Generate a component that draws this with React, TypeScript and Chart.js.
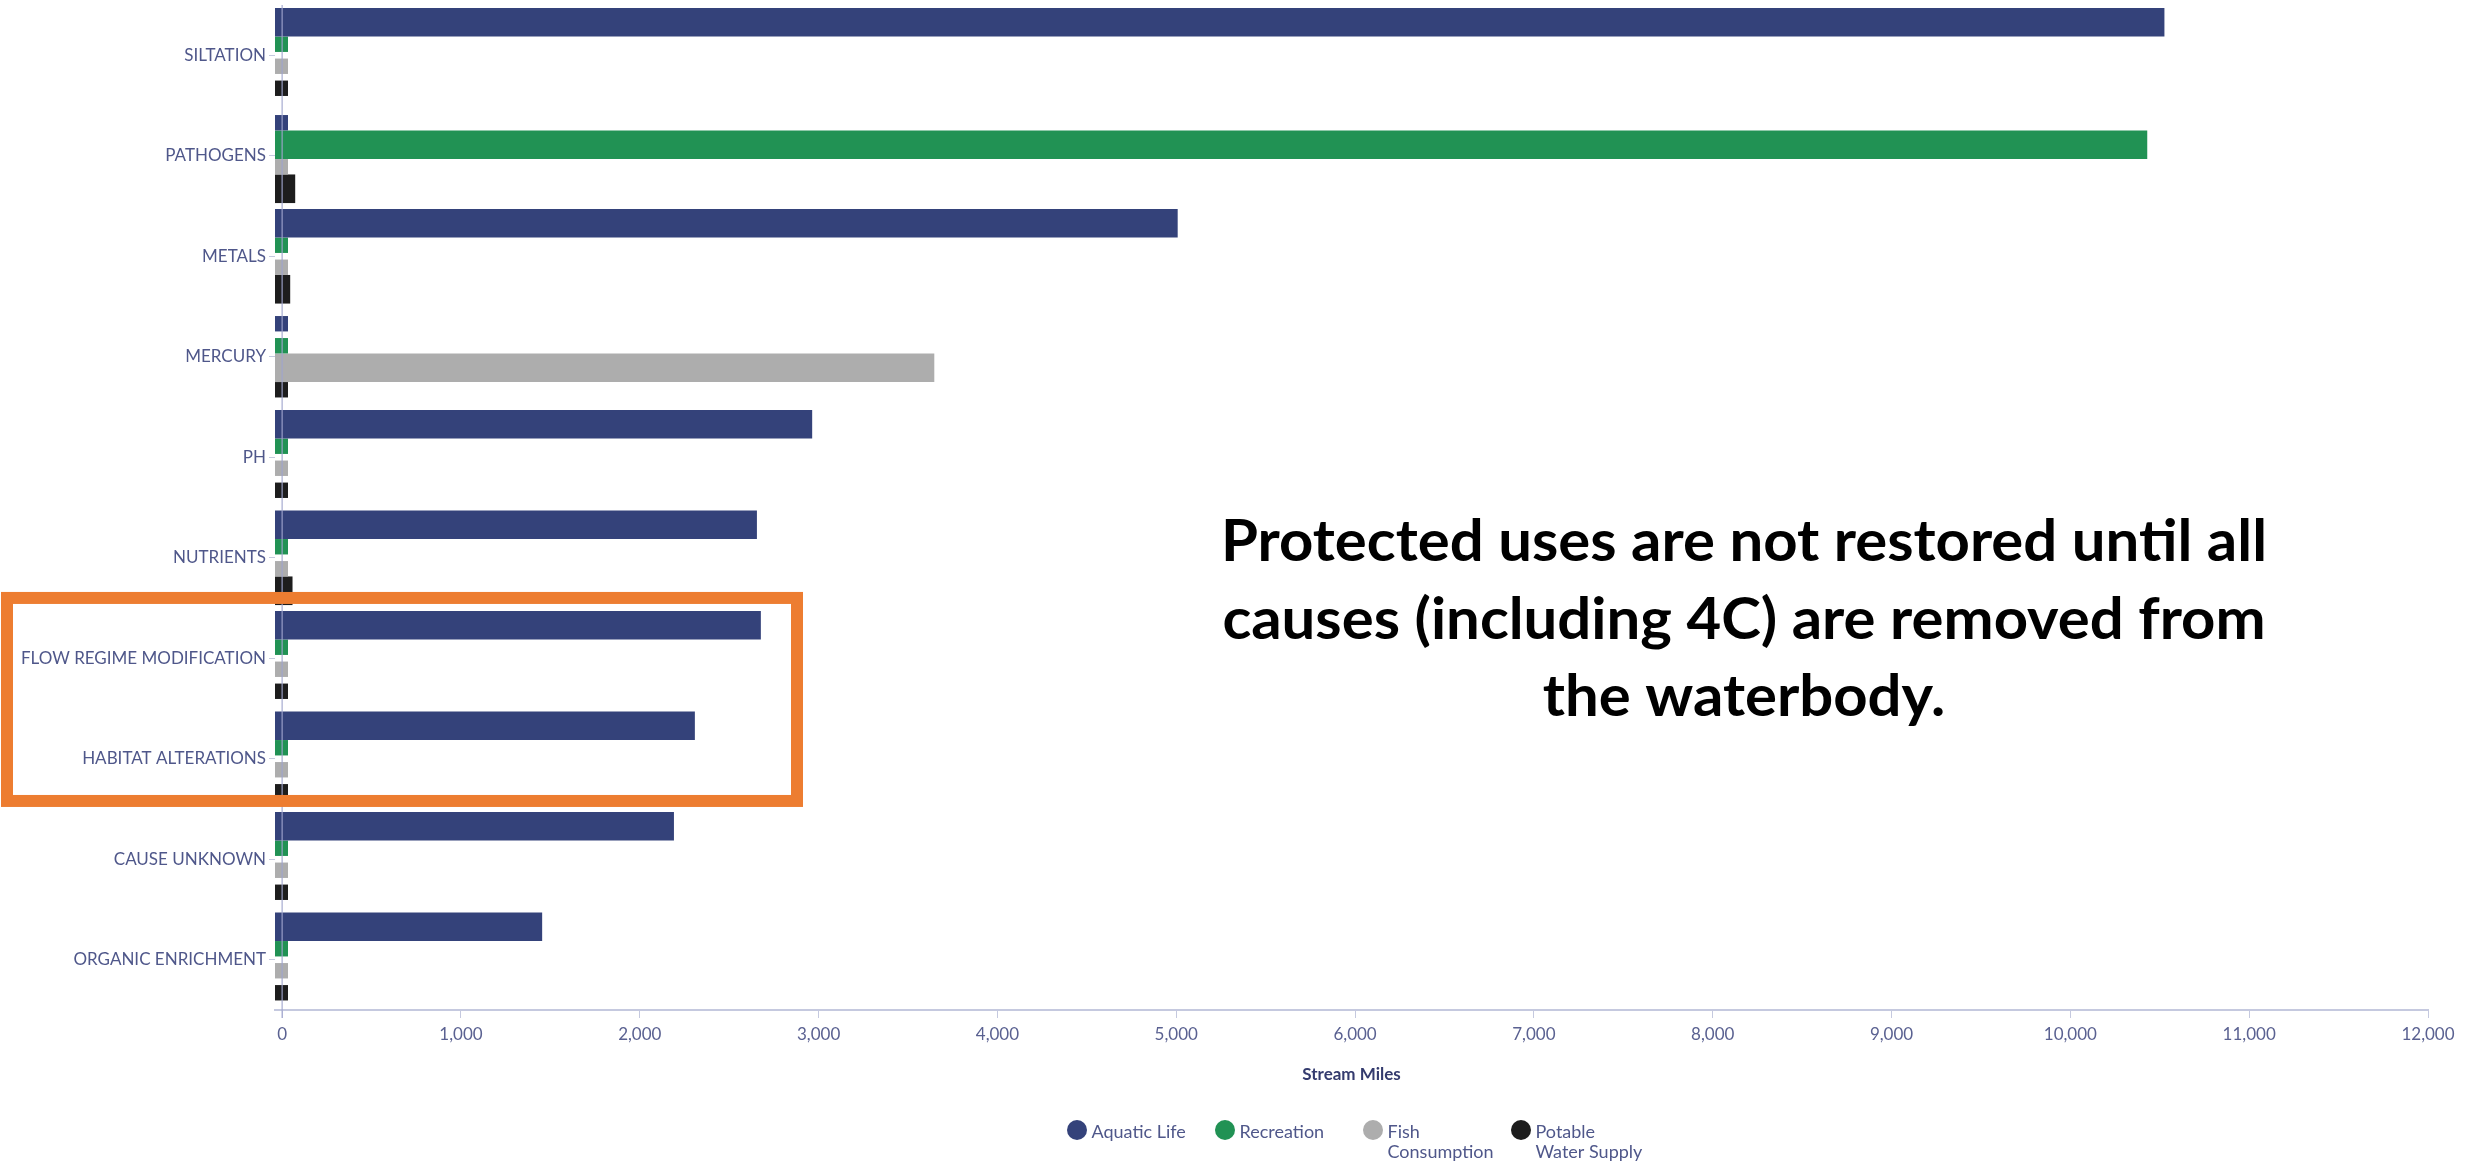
import { useEffect, useRef } from "react";
import { Chart, registerables } from "chart.js";

Chart.register(...registerables);

// Causes of impairment, top to bottom
const causes = [
  "SILTATION",
  "PATHOGENS",
  "METALS",
  "MERCURY",
  "PH",
  "NUTRIENTS",
  "FLOW REGIME MODIFICATION",
  "HABITAT ALTERATIONS",
  "CAUSE UNKNOWN",
  "ORGANIC ENRICHMENT",
];

// Impaired stream miles per protected use
const aquaticLife = [10526, 0, 5008, 0, 2964, 2655, 2677, 2308, 2191, 1454];
const recreation = [0, 10430, 0, 0, 0, 0, 0, 0, 0, 0];
const fishConsumption = [0, 0, 0, 3647, 0, 0, 0, 0, 0, 0];
const potableWaterSupply = [0, 73, 45, 0, 0, 58, 0, 0, 0, 0];

const seriesNames = [["Aquatic Life"], ["Recreation"], ["Fish", "Consumption"], ["Potable", "Water Supply"]];
const seriesColors = ["#34427a", "#219254", "#adadad", "#1d1d1d"];

const xTicks = [0, 1000, 2000, 3000, 4000, 5000, 6000, 7000, 8000, 9000, 10000, 11000, 12000];
const xTitle = "Stream Miles";

const highlighted = ["FLOW REGIME MODIFICATION", "HABITAT ALTERATIONS"];

const noteLines = [
  "Protected uses are not restored until all",
  "causes (including 4C) are removed from",
  "the waterbody.",
];

const X_MIN = -40;
const X_MAX = 12000;
const AXIS_COLOR = "#c5c9df";
const TEXT_COLOR = "#4f578a";

const overlayPlugin = {
  id: "overlay",
  afterDatasetsDraw(chart: any) {
    const { ctx, chartArea, scales } = chart;
    const x0 = scales.x.getPixelForValue(0);
    ctx.save();
    // zero reference line, drawn over the bars
    ctx.strokeStyle = "rgba(160,166,206,0.75)";
    ctx.lineWidth = 1.5;
    ctx.beginPath();
    ctx.moveTo(x0, chartArea.top);
    ctx.lineTo(x0, chartArea.bottom + 8);
    ctx.stroke();

    // box around the highlighted causes
    const y = scales.y;
    const band = y.getPixelForValue(1) - y.getPixelForValue(0);
    const first = causes.indexOf(highlighted[0]);
    const last = causes.indexOf(highlighted[highlighted.length - 1]);
    const top = y.getPixelForValue(first) - band * 0.6;
    const bottom = y.getPixelForValue(last) + band * 0.42;
    ctx.strokeStyle = "#ed7d31";
    ctx.lineWidth = 12;
    ctx.strokeRect(7, top, 790, bottom - top);
    ctx.restore();
  },
  afterDraw(chart: any) {
    const { ctx, chartArea } = chart;
    ctx.save();

    // note text
    ctx.font = "bold 58px Lato";
    const sx = 1046 / ctx.measureText(noteLines[0]).width;
    ctx.fillStyle = "#000000";
    ctx.textAlign = "center";
    ctx.textBaseline = "alphabetic";
    noteLines.forEach((line, i) => {
      ctx.save();
      ctx.translate(1744, 561 + i * 77.5);
      ctx.scale(sx, 1);
      ctx.fillText(line, 0, 0);
      ctx.restore();
    });

    // legend
    const itemW = 148;
    const cx = (chartArea.left + chartArea.right) / 2;
    const firstX = cx - 2 * itemW + 21.5;
    const cy = chart.height - 37;
    ctx.font = "18px Lato";
    ctx.textAlign = "left";
    ctx.textBaseline = "middle";
    seriesNames.forEach((lines, i) => {
      const x = firstX + i * itemW;
      ctx.fillStyle = seriesColors[i];
      ctx.beginPath();
      ctx.arc(x, cy, 10, 0, Math.PI * 2);
      ctx.fill();
      ctx.fillStyle = TEXT_COLOR;
      lines.forEach((t, j) => ctx.fillText(t, x + 14.5, cy + 2 + j * 20));
    });
    ctx.restore();
  },
};

export default function App() {
  const canvasRef = useRef<HTMLCanvasElement | null>(null);

  useEffect(() => {
    if (!canvasRef.current) return;
    const series = [aquaticLife, recreation, fishConsumption, potableWaterSupply];
    const datasets: any[] = [];
    series.forEach((values, i) => {
      const common = {
        label: seriesNames[i].join(" "),
        backgroundColor: seriesColors[i],
        borderWidth: 0,
        stack: "use" + i,
        base: X_MIN,
      };
      // reported miles
      datasets.push({
        ...common,
        data: values.map((v) => (v > 0 ? v : null)),
        barPercentage: 1.3,
        minBarLength: 0,
      });
      // no reported miles: short marker
      datasets.push({
        ...common,
        data: values.map((v) => (v > 0 ? null : v)),
        barPercentage: 0.7,
        minBarLength: 13,
      });
    });

    const chart = new Chart(canvasRef.current, {
      type: "bar",
      data: { labels: causes, datasets },
      options: {
        indexAxis: "y",
        animation: false,
        responsive: true,
        maintainAspectRatio: false,
        categoryPercentage: 0.876,
        layout: { padding: { top: 5, right: 55, bottom: 80, left: 0 } },
        plugins: {
          legend: { display: false },
          tooltip: { enabled: false },
        },
        scales: {
          x: {
            type: "linear",
            min: X_MIN,
            max: X_MAX,
            stacked: false,
            afterBuildTicks: (s: any) => {
              s.ticks = xTicks.map((v) => ({ value: v }));
            },
            afterFit: (s: any) => {
              s.height = 77;
            },
            grid: {
              display: true,
              drawOnChartArea: false,
              drawTicks: true,
              tickLength: 8,
              tickColor: AXIS_COLOR,
              lineWidth: 1,
            },
            border: { display: true, color: AXIS_COLOR, width: 2 },
            ticks: {
              color: "#5a6191",
              font: { family: "Lato", size: 17 },
              padding: 6,
              maxRotation: 0,
              autoSkip: false,
              callback: (v: any) => Number(v).toLocaleString("en-US"),
            },
            title: {
              display: true,
              text: xTitle,
              color: "#343b6e",
              font: { family: "Lato", size: 17, weight: "bold" },
              padding: { top: 0, bottom: 2 },
            },
          },
          y: {
            type: "category",
            offset: true,
            afterFit: (s: any) => {
              s.width = 275;
              s.paddingTop = 0;
              s.paddingBottom = 0;
            },
            grid: {
              display: true,
              offset: false,
              drawOnChartArea: false,
              tickLength: 6,
              color: AXIS_COLOR,
            },
            border: { display: false },
            ticks: {
              color: TEXT_COLOR,
              font: { family: "Lato", size: 17 },
              padding: 3,
              autoSkip: false,
            },
          },
        },
      } as any,
      plugins: [overlayPlugin],
    });
    return () => chart.destroy();
  }, []);

  return (
    <div style={{ position: "fixed", left: 0, top: 0, width: "100vw", height: "100vh", background: "#ffffff" }}>
      <canvas ref={canvasRef} />
    </div>
  );
}
